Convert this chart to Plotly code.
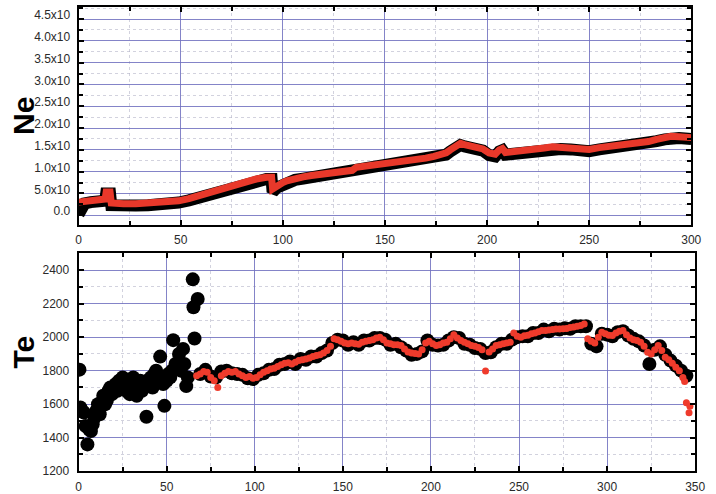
import plotly.graph_objects as go

# ---------------- Ne (top panel) ----------------
ne_x = [0, 3, 6, 9, 12, 13, 13.5, 15.4, 16, 18, 22, 28, 34, 40, 44, 49, 54, 59, 63, 68, 73, 78, 83, 87,
        92, 94.5, 95, 97, 100, 102, 106, 110, 114, 118, 123, 128, 134, 136, 140, 146, 152, 158, 164,
        170, 174, 178, 180, 182, 185, 187, 189, 192, 195, 198, 201, 204, 206, 207.5, 209, 212, 216,
        220, 224, 228, 232, 236, 241, 245, 250, 255, 259, 263, 267, 271, 275, 279, 283, 287, 290,
        294, 297, 300]
ne_red = [0.30, 0.32, 0.34, 0.35, 0.37, 0.37, 0.53, 0.53, 0.28, 0.26, 0.26, 0.26, 0.27, 0.28, 0.30,
          0.33, 0.38, 0.45, 0.53, 0.58, 0.64, 0.71, 0.79, 0.83, 0.87, 0.87, 0.60, 0.68, 0.75, 0.79,
          0.85, 0.88, 0.91, 0.94, 0.97, 1.00, 1.03, 1.10, 1.12, 1.16, 1.20, 1.24, 1.28, 1.31, 1.35,
          1.39, 1.43, 1.50, 1.60, 1.65, 1.62, 1.60, 1.58, 1.52, 1.43, 1.40, 1.50, 1.53, 1.44, 1.45,
          1.46, 1.49, 1.51, 1.54, 1.57, 1.56, 1.55, 1.53, 1.51, 1.55, 1.57, 1.59, 1.61, 1.63, 1.66,
          1.69, 1.74, 1.78, 1.81, 1.80, 1.79, 1.78]
ne_black = [0.02, 0.27, 0.30, 0.31, 0.33, 0.33, 0.50, 0.50, 0.23, 0.22, 0.22, 0.22, 0.23, 0.24, 0.26,
            0.29, 0.34, 0.41, 0.49, 0.54, 0.60, 0.67, 0.75, 0.79, 0.83, 0.83, 0.53, 0.63, 0.71, 0.75,
            0.81, 0.84, 0.87, 0.90, 0.93, 0.96, 0.99, 1.06, 1.08, 1.12, 1.16, 1.20, 1.24, 1.27, 1.31,
            1.35, 1.39, 1.46, 1.56, 1.61, 1.58, 1.56, 1.54, 1.48, 1.38, 1.35, 1.46, 1.49, 1.39, 1.41,
            1.42, 1.45, 1.47, 1.50, 1.53, 1.52, 1.51, 1.49, 1.47, 1.51, 1.53, 1.55, 1.57, 1.59, 1.62,
            1.65, 1.70, 1.74, 1.77, 1.77, 1.76, 1.75]
ne_tickvals = [0, 0.5, 1.0, 1.5, 2.0, 2.5, 3.0, 3.5, 4.0, 4.5]
ne_ticktext = ["0.0", "5.0x10", "1.0x10", "1.5x10", "2.0x10", "2.5x10", "3.0x10", "3.5x10",
               "4.0x10", "4.5x10"]

# ---------------- Te (bottom panel) ----------------
te_black_x = [0.5, 1, 2, 3, 4, 5, 6, 7, 8, 9, 10, 11, 12, 13, 14, 15, 16, 17, 18, 19, 20, 21, 22, 23,
              24, 25, 26, 27, 28, 29, 30, 31, 32, 33, 34, 35, 36, 37, 38.5, 39, 40, 41, 42, 43, 44,
              45, 46.3, 47, 48, 48.7, 50, 51, 52, 53, 53.7, 55, 56, 57, 58, 59.3, 60, 61.1, 62,
              64.8, 65.2, 65.8, 67.6,
              69, 72, 75, 78, 81, 84, 87, 90, 93, 96, 99, 102, 105, 108, 111, 114, 117, 120, 123,
              126, 129, 132, 135, 138, 141, 144, 147, 150, 153, 156, 159, 162, 165, 168, 171, 174,
              177, 180, 183, 186, 189, 192, 195, 198, 201, 204, 207, 210, 213, 216, 219, 222, 225,
              228, 231, 234, 237, 240, 243, 246, 249, 252, 255, 258, 261, 264, 267, 270, 273, 276,
              279, 282, 285, 288, 291, 294, 297, 300, 303, 306, 309, 312, 315, 318, 321, 324, 327,
              330, 333, 336, 339, 342, 345]
te_black_y = [1806, 1580, 1560, 1550, 1470, 1360, 1450, 1440, 1480, 1520, 1560, 1600, 1540, 1610,
              1650, 1600, 1620, 1680, 1700, 1660, 1700, 1720, 1680, 1740, 1700, 1760, 1720, 1680,
              1700, 1660, 1720, 1760, 1700, 1650, 1720, 1740, 1680, 1700, 1525, 1740, 1720, 1760,
              1700, 1780, 1800, 1740, 1884, 1760, 1720, 1590, 1740, 1780, 1760, 1800, 1982, 1840,
              1830, 1900, 1800, 1930, 1840, 1708, 1760,
              2345, 2178, 1992, 2228,
              1780, 1805, 1765, 1760, 1795, 1800, 1785, 1780, 1775, 1755, 1750, 1775, 1785, 1805,
              1810, 1835, 1840, 1855, 1840, 1870, 1865, 1885, 1885, 1905, 1920, 1965, 1985, 1980,
              1955, 1970, 1955, 1980, 1980, 1995, 1995, 1985, 1955, 1960, 1940, 1920, 1895, 1900,
              1915, 1980, 1955, 1950, 1955, 1980, 2000, 1995, 1960, 1955, 1935, 1930, 1905, 1910,
              1940, 1960, 1960, 1985, 2000, 2005, 2005, 2025, 2025, 2045, 2035, 2050, 2045, 2053,
              2050, 2065, 2065, 2065, 1960, 1945, 2020, 2015, 2005, 2030, 2035, 2010, 1990, 1975,
              1950, 1840, 1925, 1945, 1895, 1860, 1830, 1800, 1770]
te_red_x = [67, 69, 71, 73, 75, 77, 79, 81, 83, 85, 87, 89, 91, 93, 95, 97, 99, 101, 103, 105, 107,
            109, 111, 113, 115, 117, 119, 121, 123, 125, 127, 129, 131, 133, 135, 137, 139, 141,
            143, 145, 147, 149, 151, 153, 155, 157, 159, 161, 163, 165, 167, 169, 171, 173, 175,
            177, 179, 181, 183, 185, 187, 189, 191, 193, 195, 197, 199, 201, 203, 205, 207, 209,
            211, 213, 215, 217, 219, 221, 223, 225, 227, 229, 231, 233, 235, 237, 239, 241, 243,
            245, 247, 249, 251, 253, 255, 257, 259, 261, 263, 265, 267, 269, 271, 273, 275, 277,
            279, 281, 283, 285, 287, 289, 291, 293, 295, 297, 299, 301, 303, 305, 307, 309, 311,
            313, 315, 317, 319, 321, 323, 325, 327, 329, 331, 333, 335, 337, 339, 341, 343, 344,
            345, 346.5, 347]
te_red_y = [1770, 1780, 1795, 1790, 1760, 1740, 1700, 1770, 1785, 1795, 1790, 1795, 1780, 1770,
            1760, 1765, 1755, 1760, 1775, 1790, 1800, 1810, 1815, 1825, 1835, 1845, 1848, 1840,
            1850, 1860, 1865, 1870, 1875, 1885, 1890, 1895, 1905, 1920, 1945, 1990, 1985, 1975,
            1965, 1960, 1965, 1960, 1958, 1970, 1975, 1980, 1985, 1995, 2000, 1985, 1965, 1960,
            1955, 1955, 1950, 1930, 1912, 1905, 1902, 1900, 1925, 1965, 1975, 1960, 1950, 1955,
            1965, 1970, 1990, 2015, 1995, 1980, 1970, 1960, 1950, 1945, 1938, 1925, 1798, 1912,
            1930, 1950, 1955, 1960, 1965, 1970, 2025, 2005, 2000, 2008, 2012, 2020, 2025, 2032,
            2039, 2040, 2042, 2045, 2048, 2049, 2050, 2052, 2058, 2060, 2065, 2070, 2078, 1990,
            1975, 1965, 2000, 2029, 2020, 2012, 2010, 2025, 2035, 2039, 2015, 1995, 1985, 1980,
            1970, 1945, 1910, 1900, 1925, 1950, 1920, 1880, 1865, 1845, 1820, 1800, 1760, 1735,
            1608, 1549, 1588]

W, H = 716, 494
top_box = (77, 701, 7, 228)    # left, right, top, bottom (px)
bot_box = (77, 705, 257, 478)


def dom(box):
    l, r, t, b = box
    return [l / W, r / W], [1 - b / H, 1 - t / H]


GRID = "rgba(110,110,190,0.85)"
MINOR_GRID = "rgba(180,180,200,0.6)"
TICKFONT = dict(family="Liberation Sans, Arial, sans-serif", size=12, color="#2a2a2a")

fig = go.Figure()

fig.add_trace(go.Scatter(x=ne_x, y=ne_black, mode="lines", line=dict(color="black", width=12),
                         xaxis="x", yaxis="y", hoverinfo="skip"))
fig.add_trace(go.Scatter(x=ne_x, y=ne_red, mode="lines", line=dict(color="#e8382a", width=7),
                         xaxis="x", yaxis="y"))
fig.add_trace(go.Scatter(x=te_black_x, y=te_black_y, mode="markers",
                         marker=dict(color="black", size=14, line=dict(width=0)),
                         xaxis="x2", yaxis="y2"))
fig.add_trace(go.Scatter(x=te_red_x, y=te_red_y, mode="markers",
                         marker=dict(color="#ef3b2c", size=7, line=dict(width=0)),
                         xaxis="x2", yaxis="y2"))

xd1, yd1 = dom(top_box)
xd2, yd2 = dom(bot_box)


def xaxis(domain, rng, anchor):
    return dict(domain=domain, range=rng, anchor=anchor, tickmode="linear", tick0=0, dtick=50,
                showgrid=True, gridcolor=GRID, gridwidth=1.2, zeroline=False,
                showline=True, linecolor="black", linewidth=2, mirror="ticks",
                ticks="inside", ticklen=5, tickwidth=1.5, tickcolor="black",
                tickfont=TICKFONT, ticklabelstandoff=3,
                minor=dict(dtick=25, showgrid=True, gridcolor=MINOR_GRID, griddash="dot",
                           gridwidth=1, ticks="inside", ticklen=4, tickcolor="black"))


fig.update_layout(
    width=W, height=H, margin=dict(l=0, r=0, t=0, b=0),
    paper_bgcolor="white", plot_bgcolor="white", showlegend=False,
    xaxis=xaxis(xd1, [0, 300], "y"),
    yaxis=dict(domain=yd1, range=[-0.22, 4.78], anchor="x", tickmode="array",
               tickvals=ne_tickvals, ticktext=ne_ticktext,
               showgrid=True, gridcolor=GRID, gridwidth=1.2, zeroline=False,
               showline=True, linecolor="black", linewidth=2, mirror="ticks",
               ticks="inside", ticklen=5, tickwidth=1.5, tickcolor="black",
               tickfont=TICKFONT, ticklabelstandoff=4, ticklabelshift=-4,
               minor=dict(tickvals=[v + 0.25 for v in ne_tickvals],
                          showgrid=True, gridcolor=MINOR_GRID, griddash="dot",
                          gridwidth=1, ticks="inside", ticklen=4, tickcolor="black")),
    xaxis2=xaxis(xd2, [0, 350], "y2"),
    yaxis2=dict(domain=yd2, range=[1200, 2500], anchor="x2", tickmode="linear", tick0=1200,
                dtick=200, showgrid=True, gridcolor=GRID, gridwidth=1.2, zeroline=False,
                showline=True, linecolor="black", linewidth=2, mirror="ticks",
                ticks="inside", ticklen=5, tickwidth=1.5, tickcolor="black",
                tickfont=TICKFONT, ticklabelstandoff=5,
                minor=dict(dtick=100, showgrid=True, gridcolor=MINOR_GRID, griddash="dot",
                           gridwidth=1, ticks="inside", ticklen=4, tickcolor="black")),
    annotations=[
        dict(text="<b>Ne</b>", x=21 / W, y=1 - 118 / H, xref="paper", yref="paper",
             xanchor="center", yanchor="middle",
             textangle=-90, showarrow=False,
             font=dict(family="Liberation Sans, Arial, sans-serif", size=30, color="black")),
        dict(text="<b>Te</b>", x=21 / W, y=1 - 357 / H, xref="paper", yref="paper",
             xanchor="center", yanchor="middle",
             textangle=-90, showarrow=False,
             font=dict(family="Liberation Sans, Arial, sans-serif", size=30, color="black")),
    ],
)

fig.write_html("out.html", config={"displayModeBar": False},
               post_script="document.body.style.margin='0';document.body.style.overflow='hidden';")
